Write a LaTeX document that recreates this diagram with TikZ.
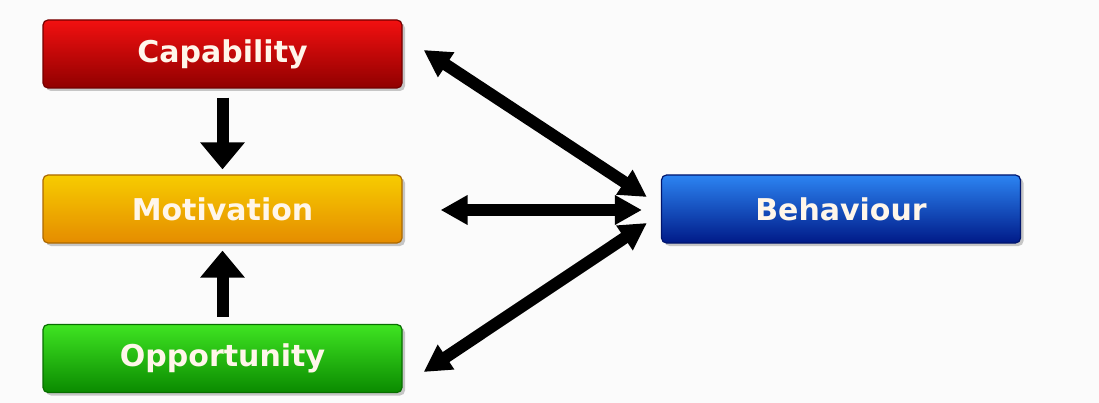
\documentclass[tikz,border=0pt]{standalone}
\usepackage{fontspec}
\setmainfont{DejaVu Sans}
\usetikzlibrary{arrows.meta,shadows,calc}
\definecolor{bg}{HTML}{FBFBFB}
\definecolor{redtop}{HTML}{F21010}
\definecolor{redbot}{HTML}{900000}
\definecolor{yeltop}{HTML}{F7CC00}
\definecolor{yelbot}{HTML}{E58C00}
\definecolor{grntop}{HTML}{3FE422}
\definecolor{grnbot}{HTML}{0A8A00}
\definecolor{blutop}{HTML}{2C84F2}
\definecolor{blubot}{HTML}{001A88}
\definecolor{txt}{HTML}{FFF6EA}
\tikzset{
  box/.style={rectangle, rounded corners=5pt, minimum width=359pt, minimum height=68pt,
    inner sep=0pt, text=txt, font=\bfseries\fontsize{30}{34}\selectfont,
    line width=1.2pt, drop shadow={shadow xshift=3pt, shadow yshift=-3pt, opacity=0.35, fill=black!60}},
  redbox/.style={box, top color=redtop, bottom color=redbot, draw=redbot!80!black},
  yelbox/.style={box, top color=yeltop, bottom color=yelbot, draw=yelbot!75!black},
  grnbox/.style={box, top color=grntop, bottom color=grnbot, draw=grnbot!80!black},
  blubox/.style={box, top color=blutop, bottom color=blubot, draw=blubot!80!black},
  varrow/.style={line width=12pt, -{Triangle[width=43pt,length=27pt]}, black},
  darrow/.style={line width=12pt, {Triangle[width=28pt,length=27pt]}-{Triangle[width=28pt,length=27pt]}, black},
}
\begin{document}
\begin{tikzpicture}[x=1pt,y=-1pt]
\fill[bg] (0,0) rectangle (1099,403);
\useasboundingbox (0,0) rectangle (1099,403);
\node[redbox] (cap) at (222.5,54) {Capability};
\node[yelbox] (mot) at (222.5,209) {Motivation};
\node[grnbox] (opp) at (222.5,358.5) {Opportunity};
\node[blubox] (beh) at (841,209) {Behaviour};
% vertical arrows
\coordinate (c1) at ($(cap.south)+(0,9)$);
\coordinate (m1) at ($(mot.north)+(0,-5)$);
\coordinate (o1) at ($(opp.north)+(0,-7)$);
\coordinate (m2) at ($(mot.south)+(0,7)$);
\draw[varrow] (c1) -- (m1);
\draw[varrow] (o1) -- (m2);
% double arrows
\coordinate (cE) at ($(cap.east)+(21,-4)$);
\coordinate (mE) at ($(mot.east)+(38,1)$);
\coordinate (oE) at ($(opp.east)+(21,13.5)$);
\coordinate (b1) at ($(beh.west)+(-14,-12)$);
\coordinate (b2) at ($(beh.west)+(-19,1)$);
\coordinate (b3) at ($(beh.west)+(-14,14)$);
\draw[darrow] (cE) -- (b1);
\draw[darrow] (mE) -- (b2);
\draw[darrow] (oE) -- (b3);
\end{tikzpicture}
\end{document}
